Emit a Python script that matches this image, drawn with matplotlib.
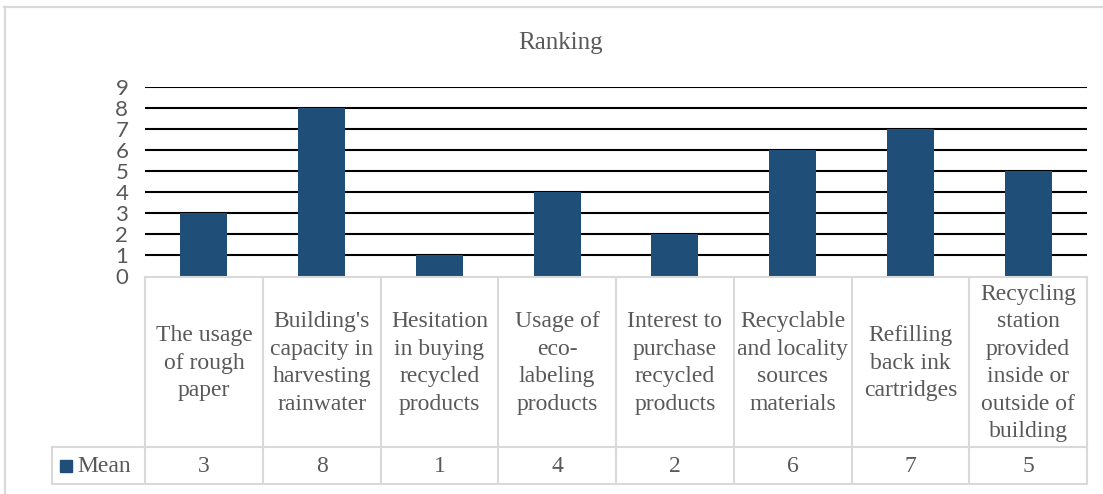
import matplotlib
matplotlib.use("Agg")
import matplotlib.pyplot as plt
from matplotlib.lines import Line2D
from matplotlib.patches import Rectangle

# -----------------------------
# Data
# -----------------------------
categories = [
    "The usage\nof rough\npaper",
    "Building's\ncapacity in\nharvesting\nrainwater",
    "Hesitation\nin buying\nrecycled\nproducts",
    "Usage of\neco-\nlabeling\nproducts",
    "Interest to\npurchase\nrecycled\nproducts",
    "Recyclable\nand locality\nsources\nmaterials",
    "Refilling\nback ink\ncartridges",
    "Recycling\nstation\nprovided\ninside or\noutside of\nbuilding",
]
mean_values = [3, 8, 1, 4, 2, 6, 7, 5]
y_ticks = list(range(0, 10))
series_name = "Mean"
title = "Ranking"

BAR_COLOR = "#1F4E79"
TEXT_COLOR = "#595959"
BORDER = "#D9D9D9"

plt.rcParams["font.serif"] = ["Liberation Serif", "DejaVu Serif"]
plt.rcParams["font.family"] = "serif"

W, H = 1103, 494


def fx(px):
    return px / W


def fy(py):
    return 1 - py / H


fig = plt.figure(figsize=(W / 100, H / 100), dpi=100)

# chart frame (only top and left edge visible)
fig.add_artist(Line2D([fx(4), 1], [fy(7), fy(7)], color=BORDER, lw=1.6))
fig.add_artist(Line2D([fx(5), fx(5)], [fy(7), 0], color=BORDER, lw=1.6))

# -----------------------------
# Column chart
# -----------------------------
left, right = 145, 1087
top, base = 87, 276
ax = fig.add_axes([fx(left), fy(base), fx(right) - fx(left), fy(top) - fy(base)])
x = list(range(len(categories)))
ax.set_xlim(-0.5, len(categories) - 0.5)
ax.set_ylim(0, 9)
for t in y_ticks[1:]:
    ax.axhline(t, color="black", lw=1.5, zorder=1)
ax.bar(x, mean_values, width=0.4, color=BAR_COLOR, zorder=2)
ax.set_yticks(y_ticks)
ax.set_yticklabels([str(t) for t in y_ticks], fontfamily="Lato", fontsize=16,
                   color=TEXT_COLOR)
ax.tick_params(axis="y", length=0, pad=12)
ax.set_xticks([])
for s in ax.spines.values():
    s.set_visible(False)
ax.patch.set_alpha(0)

fig.text(fx(561), fy(43), title, ha="center", va="center", fontsize=18,
         color=TEXT_COLOR)

# -----------------------------
# Data table under the chart
# -----------------------------
t_top, t_mid, t_bot = 277, 447, 484
tab = fig.add_axes([fx(left), fy(t_bot), fx(right) - fx(left), fy(t_top) - fy(t_bot)])
tab.set_xlim(-0.5, len(categories) - 0.5)
tab.set_ylim(t_bot, t_top)
tab.axis("off")

unit = (right - left) / len(categories)
leg_left = -0.5 - (left - 52) / unit

lk = dict(color=BORDER, lw=1.5, clip_on=False)
tab.plot([-0.5, len(categories) - 0.5], [t_top, t_top], **lk)
tab.plot([leg_left, len(categories) - 0.5], [t_mid, t_mid], **lk)
tab.plot([leg_left, len(categories) - 0.5], [t_bot, t_bot], **lk)
tab.plot([leg_left, leg_left], [t_mid, t_bot], **lk)
for i in range(len(categories) + 1):
    tab.plot([i - 0.5, i - 0.5], [t_top, t_bot], **lk)

for i, (cat, v) in enumerate(zip(categories, mean_values)):
    tab.text(i, (t_top + t_mid) / 2 + 1, cat, ha="center", va="center",
             fontsize=17, color=TEXT_COLOR, linespacing=1.4)
    tab.text(i, (t_mid + t_bot) / 2 + 1, str(v), ha="center", va="center",
             fontsize=17, color=TEXT_COLOR)

sq = 12 / unit
tab.add_patch(Rectangle((leg_left + 8 / unit, (t_mid + t_bot) / 2 - 6), sq, 12,
                        color=BAR_COLOR, clip_on=False))
tab.text(leg_left + 25 / unit, (t_mid + t_bot) / 2 + 1, series_name, ha="left",
         va="center", fontsize=17, color=TEXT_COLOR)

fig.savefig("out.png", dpi=100)
